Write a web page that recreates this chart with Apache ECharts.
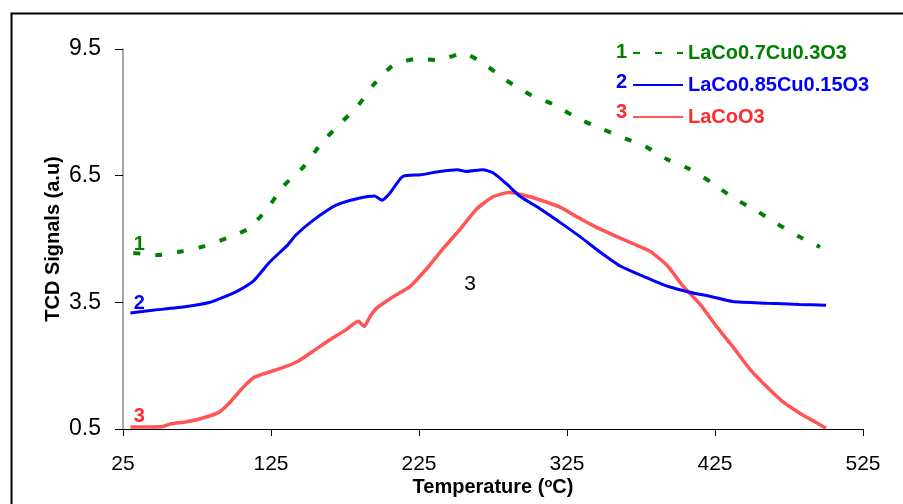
<!DOCTYPE html>
<html>
<head>
<meta charset="utf-8">
<script src="https://cdn.jsdelivr.net/npm/echarts@6/dist/echarts.min.js"></script>
<style>
html, body { margin: 0; padding: 0; background: #fff; }
#chart { width: 903px; height: 504px; }
</style>
</head>
<body>
<div id="chart"></div>
<script>
var chart = echarts.init(document.getElementById('chart'));

var xTicks = [25, 125, 225, 325, 425, 525];
var yTicks = [0.5, 3.5, 6.5, 9.5];

var names = ['LaCo0.7Cu0.3O3', 'LaCo0.85Cu0.15O3', 'LaCoO3'];
var colors = ['#008000', '#0000ff', '#ff2a2a'];

// 1 - LaCo0.7Cu0.3O3 (dashed green)
var tempCu30 = [32, 49, 65, 80, 95, 109, 122, 133, 147, 160, 172, 184, 194, 207, 222, 238, 255, 270, 284, 301, 317, 332, 349, 363, 379, 393, 407, 423, 437, 453, 467, 481, 496];
var sigCu30 = [4.67, 4.62, 4.71, 4.83, 5.02, 5.23, 5.69, 6.24, 6.71, 7.31, 7.74, 8.17, 8.64, 9.1, 9.26, 9.24, 9.4, 9.12, 8.76, 8.4, 8.17, 7.86, 7.6, 7.4, 7.17, 6.88, 6.67, 6.33, 5.98, 5.67, 5.36, 5.07, 4.81];

// 2 - LaCo0.85Cu0.15O3 (blue)
var tempCu15 = [30, 45, 68, 84, 90, 102, 113, 124, 136, 142, 153, 169, 185, 195, 200, 205, 214, 226, 239, 251, 257, 268, 275, 284, 293, 307, 320, 334, 347, 361, 381, 393, 408, 422, 437, 460, 482, 500];
var sigCu15 = [3.25, 3.31, 3.4, 3.5, 3.58, 3.76, 4.0, 4.45, 4.85, 5.1, 5.43, 5.8, 5.97, 6.02, 5.92, 6.07, 6.48, 6.52, 6.6, 6.64, 6.6, 6.64, 6.57, 6.31, 6.02, 5.71, 5.4, 5.05, 4.7, 4.36, 4.05, 3.88, 3.74, 3.64, 3.52, 3.48, 3.45, 3.43];

// 3 - LaCoO3 (red)
var tempCo = [30, 45, 52, 57, 68, 79, 90, 97, 106, 113, 122, 131, 143, 153, 165, 176, 184, 188, 192, 197, 207, 219, 230, 241, 253, 264, 275, 286, 298, 309, 320, 332, 343, 359, 381, 393, 403, 415, 426, 437, 449, 460, 471, 482, 494, 500];
var sigCo = [0.55, 0.55, 0.56, 0.62, 0.67, 0.76, 0.9, 1.12, 1.48, 1.71, 1.83, 1.93, 2.1, 2.33, 2.62, 2.86, 3.05, 2.93, 3.17, 3.38, 3.62, 3.88, 4.29, 4.76, 5.24, 5.71, 6.0, 6.1, 6.02, 5.9, 5.76, 5.52, 5.31, 5.05, 4.71, 4.36, 3.9, 3.45, 2.93, 2.45, 1.9, 1.5, 1.14, 0.88, 0.64, 0.52];

// start labels 1, 2, 3 and the loose "3" inside the plot
var startLabels = ['1', '2', '3'];
var startLabelX = [36, 36, 36];
var startLabelY = [4.87, 3.48, 0.8];
var noteText = '3';
var noteX = 259.5;
var noteY = 3.93;

function pairs(xs, ys) {
    return xs.map(function (x, i) { return [x, ys[i]]; });
}

var font = '"Liberation Sans", Arial, sans-serif';

function startMark(i) {
    return {
        symbol: 'circle',
        symbolSize: 0,
        silent: true,
        label: {
            show: true, position: 'inside', color: colors[i],
            fontFamily: font, fontSize: 20, fontWeight: 'bold',
            formatter: startLabels[i]
        },
        data: [{ coord: [startLabelX[i], startLabelY[i]] }]
    };
}

var seriesData = [pairs(tempCu30, sigCu30), pairs(tempCu15, sigCu15), pairs(tempCo, sigCo)];
var lineStyles = [
    { color: colors[0], width: 4, type: [7, 15] },
    { color: colors[1], width: 3 },
    { color: colors[2], width: 3.5, opacity: 0.8 }
];

var series = names.map(function (n, i) {
    return {
        name: n,
        type: 'line',
        data: seriesData[i],
        showSymbol: false,
        symbol: 'none',
        smooth: 0.2,
        color: colors[i],
        lineStyle: lineStyles[i],
        markPoint: startMark(i),
        z: 3 - i
    };
});
series[2].markPoint.data.push({
    coord: [noteX, noteY],
    label: { color: '#000', fontWeight: 'normal', fontSize: 21, formatter: noteText }
});

var option = {
    animation: false,
    textStyle: { fontFamily: font },
    grid: { left: 123, right: 40, top: 49, bottom: 75 },
    legend: {
        orient: 'vertical',
        left: 627,
        top: 38,
        itemWidth: 50,
        itemHeight: 22,
        itemGap: 12,
        itemStyle: { color: 'transparent', borderWidth: 0, opacity: 0 },
        textStyle: { fontSize: 20, fontWeight: 'bold', fontFamily: font },
        data: names.map(function (n, i) {
            return { name: n, textStyle: { color: colors[i] } };
        })
    },
    xAxis: {
        type: 'value',
        min: xTicks[0],
        max: xTicks[xTicks.length - 1],
        interval: 100,
        name: 'Temperature ({s|o}C)',
        nameLocation: 'middle',
        nameGap: 48,
        nameMoveOverlap: false,
        nameTextStyle: {
            fontSize: 20, fontWeight: 'bold', color: '#000', fontFamily: font,
            rich: { s: { fontSize: 13, fontWeight: 'bold', verticalAlign: 'top', padding: [0, 0, 8, 0] } }
        },
        axisLine: { lineStyle: { color: '#000', width: 1 } },
        axisTick: { length: 7, lineStyle: { color: '#000' } },
        axisLabel: { fontSize: 21, color: '#000', margin: 25 },
        splitLine: { show: false }
    },
    yAxis: {
        type: 'value',
        min: yTicks[0],
        max: yTicks[yTicks.length - 1],
        interval: 3,
        name: 'TCD Signals (a.u)',
        nameLocation: 'middle',
        nameGap: 60,
        nameMoveOverlap: false,
        nameRotate: 90,
        nameTextStyle: { fontSize: 20, fontWeight: 'bold', color: '#000', fontFamily: font },
        axisLine: { show: true, lineStyle: { color: '#888', width: 1.5 } },
        axisTick: { show: true, length: 8, lineStyle: { color: '#000' } },
        axisLabel: { fontSize: 23, color: '#000', margin: 22 },
        splitLine: { show: false }
    },
    graphic: [
        { type: 'rect', left: 9, top: 11, shape: { width: 1000, height: 1000 }, style: { fill: 'none', stroke: '#000', lineWidth: 2 }, silent: true }
    ].concat(startLabels.map(function (t, i) {
        return {
            type: 'text', left: 616, top: 42 + i * 30,
            style: { text: t, fill: colors[i], font: 'bold 20px ' + font }
        };
    })),
    series: series
};

chart.setOption(option);
</script>
</body>
</html>
